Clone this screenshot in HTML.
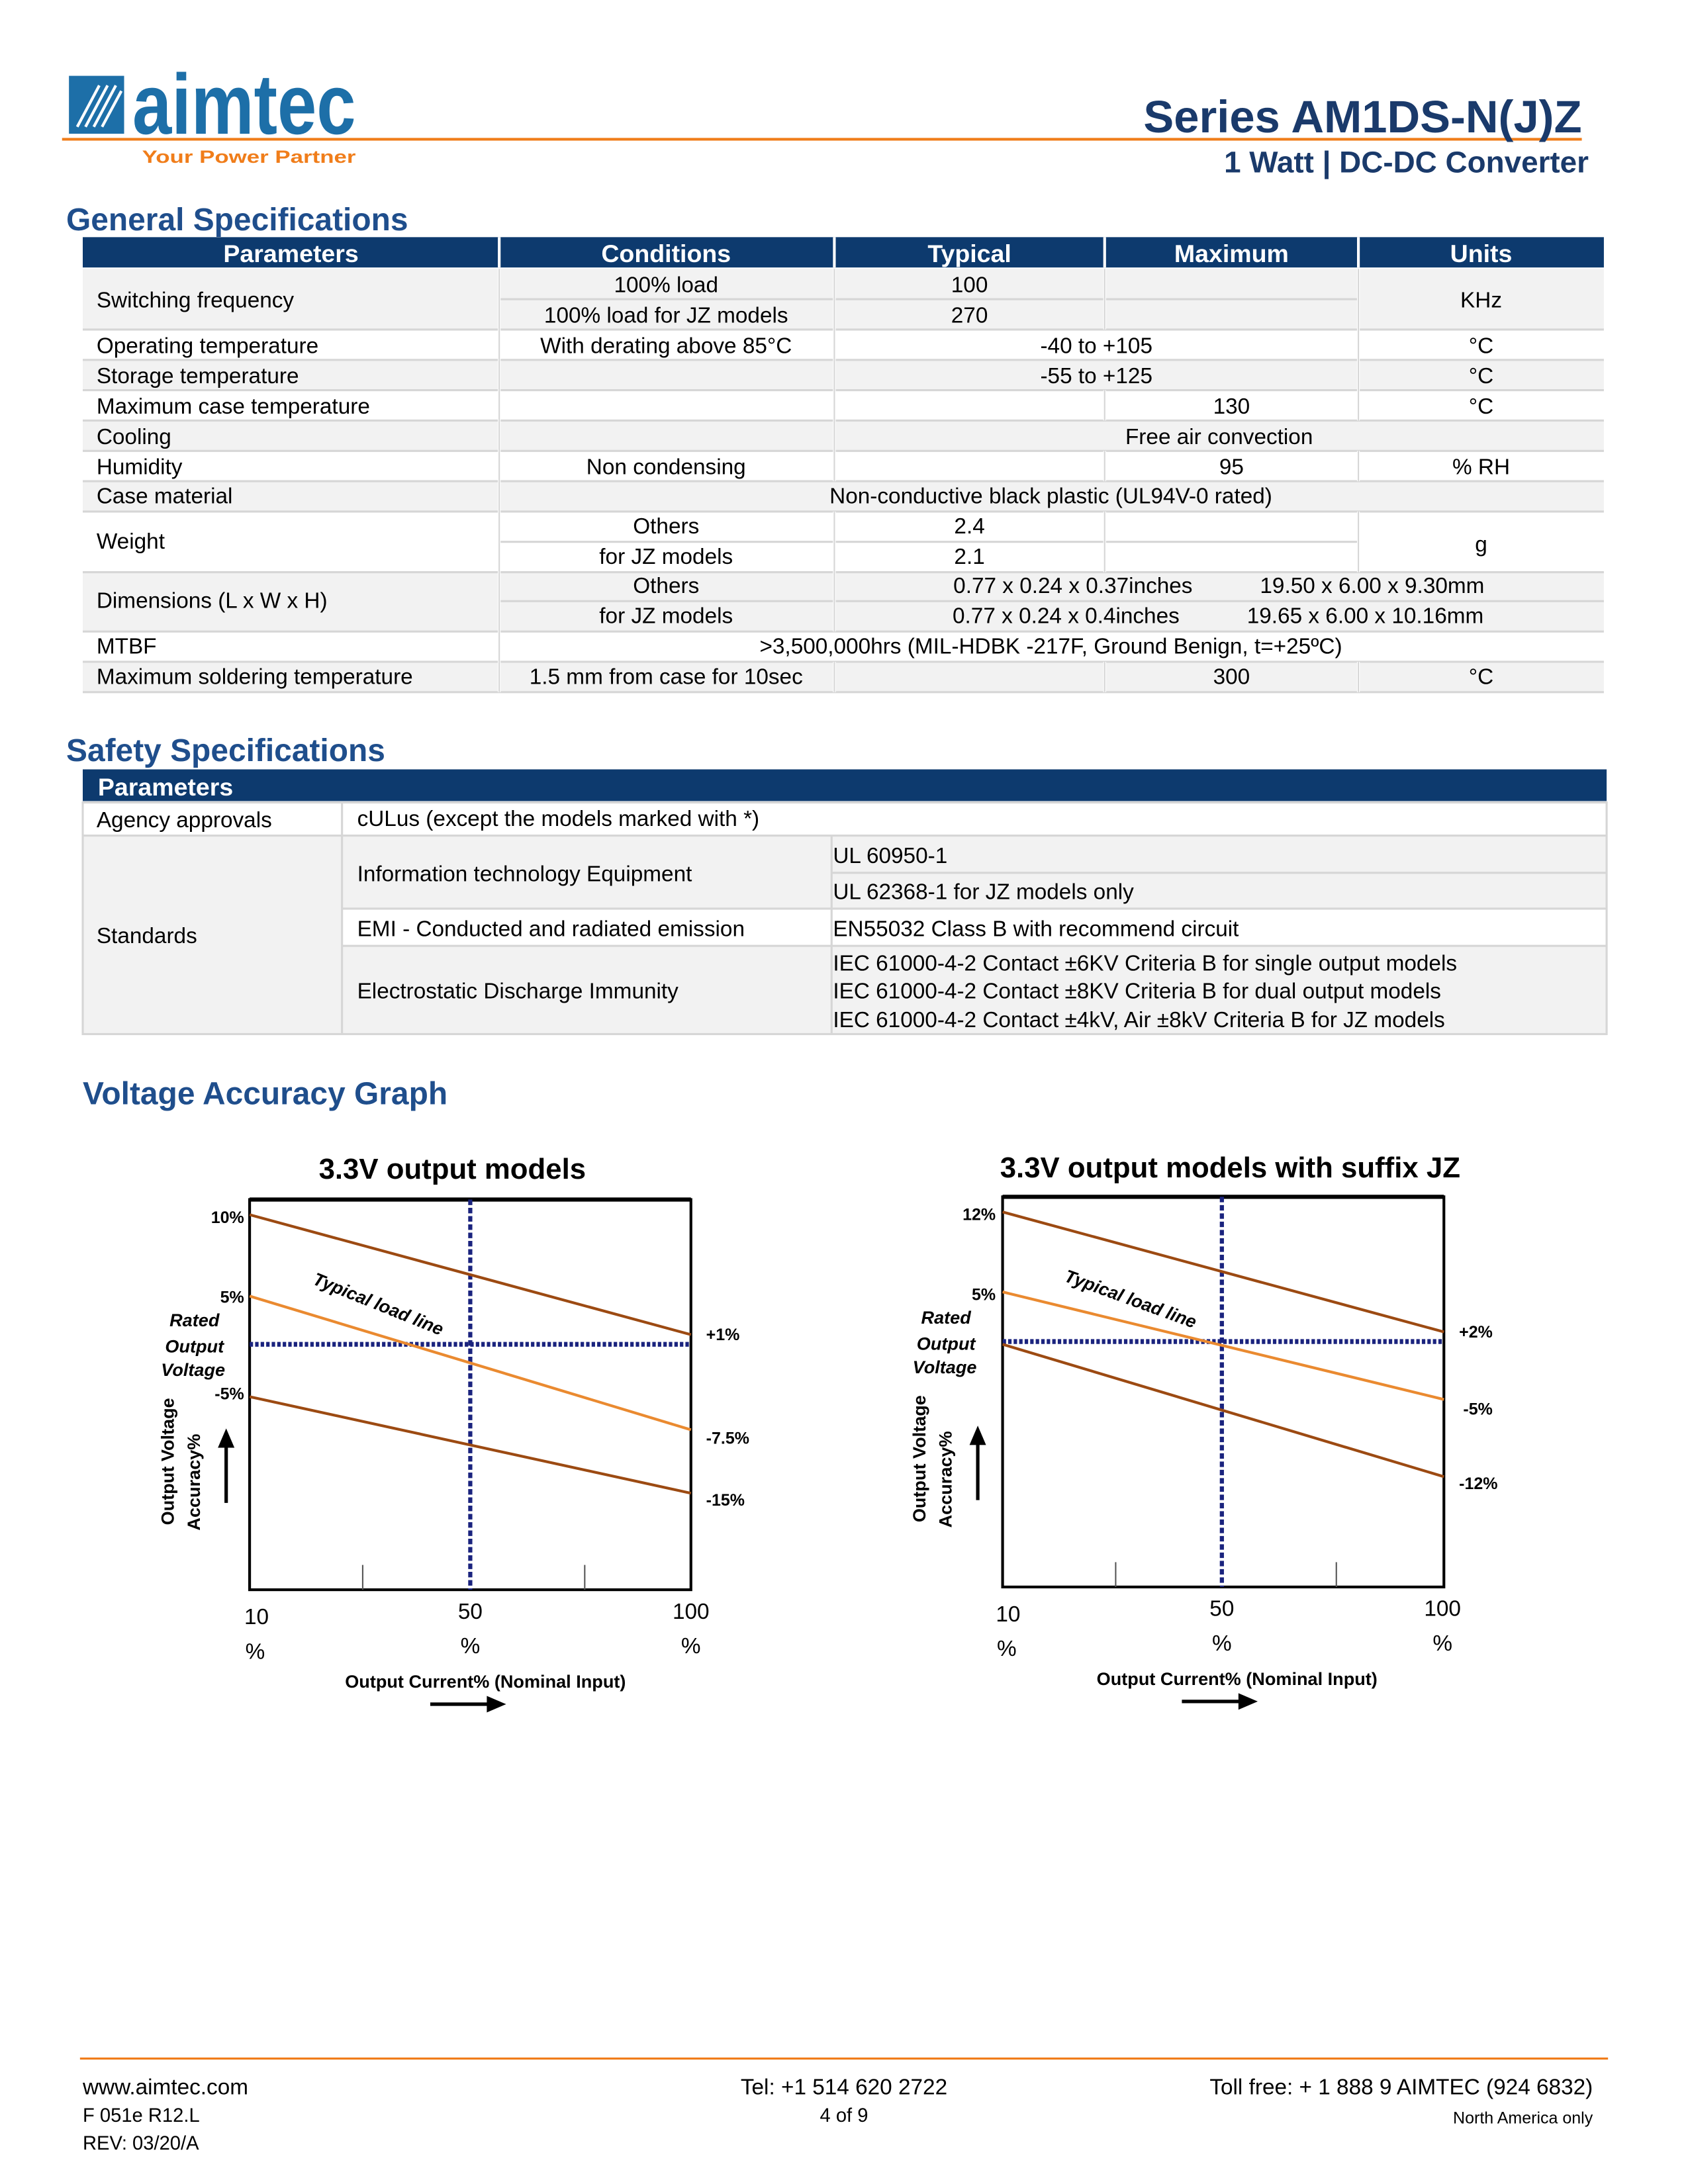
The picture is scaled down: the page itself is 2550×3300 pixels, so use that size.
<!DOCTYPE html>
<html><head><meta charset="utf-8"><style>
html,body{margin:0;padding:0;background:#fff}
svg{display:block}
text{font-family:"Liberation Sans",sans-serif}
</style></head><body>
<svg width="2550" height="3300" viewBox="0 0 1224 1584" xmlns="http://www.w3.org/2000/svg">
<!-- header -->
<rect x="50" y="55" width="40" height="42" fill="#1d6fa8"/>
<g stroke="#fff" stroke-width="2"><line x1="56" y1="92" x2="72" y2="62"/><line x1="62" y1="92" x2="78" y2="62"/><line x1="68" y1="92" x2="84" y2="62"/><line x1="74" y1="92" x2="88" y2="66"/></g>
<text x="96" y="97" font-size="62" font-weight="bold" fill="#1d6fa8" textLength="162" lengthAdjust="spacingAndGlyphs">aimtec</text>
<line x1="45" y1="101" x2="1147" y2="101" stroke="#f07d1a" stroke-width="2"/>
<text x="103" y="118" font-size="13" font-weight="bold" fill="#f07d1a" textLength="155" lengthAdjust="spacingAndGlyphs">Your Power Partner</text>
<text x="1147" y="96" font-size="33" font-weight="bold" fill="#1a3a6b" text-anchor="end">Series AM1DS-N(J)Z</text>
<text x="1152" y="125" font-size="22" font-weight="bold" fill="#1a3a6b" text-anchor="end">1 Watt | DC-DC Converter</text>
<text x="48" y="167" font-size="23" font-weight="bold" fill="#1f4e8c">General Specifications</text>
<!-- general table -->
<rect x="60" y="172" width="1103" height="22" fill="#0d3a6e"/>
<g stroke="#fff" stroke-width="2"><line x1="362" y1="172" x2="362" y2="194"/><line x1="605" y1="172" x2="605" y2="194"/><line x1="801" y1="172" x2="801" y2="194"/><line x1="985" y1="172" x2="985" y2="194"/></g>
<g font-size="18" font-weight="bold" fill="#fff" text-anchor="middle"><text x="211" y="190">Parameters</text><text x="483" y="190">Conditions</text><text x="703" y="190">Typical</text><text x="893" y="190">Maximum</text><text x="1074" y="190">Units</text></g>
<g fill="#f2f2f2"><rect x="60" y="195" width="1103" height="44"/><rect x="60" y="261" width="1103" height="22"/><rect x="60" y="305" width="1103" height="22"/><rect x="60" y="349" width="1103" height="22"/><rect x="60" y="415" width="1103" height="43"/><rect x="60" y="480" width="1103" height="22"/></g>
<g stroke="#d6d6d6" stroke-width="1.5" fill="none">
<line x1="60" y1="239" x2="1163" y2="239"/><line x1="60" y1="261" x2="1163" y2="261"/><line x1="60" y1="283" x2="1163" y2="283"/><line x1="60" y1="305" x2="1163" y2="305"/><line x1="60" y1="327" x2="1163" y2="327"/><line x1="60" y1="349" x2="1163" y2="349"/><line x1="60" y1="371" x2="1163" y2="371"/><line x1="60" y1="415" x2="1163" y2="415"/><line x1="60" y1="458" x2="1163" y2="458"/><line x1="60" y1="480" x2="1163" y2="480"/><line x1="60" y1="502" x2="1163" y2="502"/>
<line x1="362" y1="217" x2="985" y2="217"/><line x1="362" y1="393" x2="985" y2="393"/><line x1="362" y1="436" x2="1163" y2="436"/>
</g>
<g stroke="#fff" stroke-width="2">
<line x1="362" y1="195" x2="362" y2="502"/>
<line x1="605" y1="195" x2="605" y2="349"/><line x1="801" y1="195" x2="801" y2="239"/><line x1="985" y1="195" x2="985" y2="305"/>
<line x1="801" y1="283" x2="801" y2="305"/><line x1="801" y1="327" x2="801" y2="349"/><line x1="985" y1="327" x2="985" y2="349"/>
<line x1="605" y1="371" x2="605" y2="458"/><line x1="801" y1="371" x2="801" y2="415"/><line x1="985" y1="371" x2="985" y2="415"/>
<line x1="605" y1="480" x2="605" y2="502"/><line x1="801" y1="480" x2="801" y2="502"/><line x1="985" y1="480" x2="985" y2="502"/>
</g>
<g stroke="#d6d6d6" stroke-width="1"><line x1="362" y1="195" x2="362" y2="502"/><line x1="605" y1="195" x2="605" y2="349"/><line x1="605" y1="371" x2="605" y2="458"/><line x1="605" y1="480" x2="605" y2="502"/><line x1="801" y1="195" x2="801" y2="239"/><line x1="801" y1="283" x2="801" y2="305"/><line x1="801" y1="327" x2="801" y2="349"/><line x1="801" y1="371" x2="801" y2="415"/><line x1="801" y1="480" x2="801" y2="502"/><line x1="985" y1="195" x2="985" y2="305"/><line x1="985" y1="327" x2="985" y2="349"/><line x1="985" y1="371" x2="985" y2="415"/><line x1="985" y1="480" x2="985" y2="502"/></g>
<g font-size="16" fill="#000">
<text x="70" y="223">Switching frequency</text><text x="70" y="256">Operating temperature</text><text x="70" y="278">Storage temperature</text><text x="70" y="300">Maximum case temperature</text><text x="70" y="322">Cooling</text><text x="70" y="344">Humidity</text><text x="70" y="365">Case material</text><text x="70" y="398">Weight</text><text x="70" y="441">Dimensions (L x W x H)</text><text x="70" y="474">MTBF</text><text x="70" y="496">Maximum soldering temperature</text>
</g>
<g font-size="16" fill="#000" text-anchor="middle">
<text x="483" y="212">100% load</text><text x="703" y="212">100</text><text x="483" y="234">100% load for JZ models</text><text x="703" y="234">270</text><text x="1074" y="223">KHz</text>
<text x="483" y="256">With derating above 85°C</text><text x="795" y="256">-40 to +105</text><text x="1074" y="256">°C</text>
<text x="795" y="278">-55 to +125</text><text x="1074" y="278">°C</text>
<text x="893" y="300">130</text><text x="1074" y="300">°C</text>
<text x="884" y="322">Free air convection</text>
<text x="483" y="344">Non condensing</text><text x="893" y="344">95</text><text x="1074" y="344">% RH</text>
<text x="762" y="365">Non-conductive black plastic   (UL94V-0 rated)</text>
<text x="483" y="387">Others</text><text x="703" y="387">2.4</text><text x="483" y="409">for JZ models</text><text x="703" y="409">2.1</text><text x="1074" y="400">g</text>
<text x="483" y="430">Others</text><text x="778" y="430">0.77 x 0.24 x 0.37inches</text><text x="995" y="430">19.50 x 6.00 x 9.30mm</text>
<text x="483" y="452">for JZ models</text><text x="773" y="452">0.77 x 0.24 x 0.4inches</text><text x="990" y="452">19.65 x 6.00 x 10.16mm</text>
<text x="762" y="474">&gt;3,500,000hrs (MIL-HDBK -217F, Ground Benign, t=+25ºC)</text>
<text x="483" y="496">1.5 mm from case for 10sec</text><text x="893" y="496">300</text><text x="1074" y="496">°C</text>
</g>
<!-- safety -->
<text x="48" y="552" font-size="23" font-weight="bold" fill="#1f4e8c">Safety Specifications</text>
<rect x="60" y="558" width="1105" height="23" fill="#0d3a6e"/>
<text x="71" y="577" font-size="18" font-weight="bold" fill="#fff">Parameters</text>
<rect x="60" y="606" width="1105" height="144" fill="#f2f2f2"/>
<rect x="248" y="659" width="917" height="27" fill="#fff"/>
<g stroke="#d6d6d6" stroke-width="1.5" fill="none">
<rect x="60" y="582" width="1105" height="168"/>
<line x1="60" y1="606" x2="1165" y2="606"/><line x1="248" y1="659" x2="1165" y2="659"/><line x1="248" y1="686" x2="1165" y2="686"/><line x1="603" y1="633" x2="1165" y2="633"/>
<line x1="248" y1="582" x2="248" y2="750"/><line x1="603" y1="606" x2="603" y2="750"/>
</g>
<g font-size="16" fill="#000">
<text x="70" y="600">Agency approvals</text><text x="259" y="599">cULus (except the models marked with *)</text>
<text x="70" y="684">Standards</text>
<text x="259" y="639">Information technology Equipment</text><text x="604" y="626">UL 60950-1</text><text x="604" y="652">UL 62368-1 for JZ models only</text>
<text x="259" y="679">EMI - Conducted and radiated emission</text><text x="604" y="679">EN55032 Class B with recommend circuit</text>
<text x="259" y="724">Electrostatic Discharge Immunity</text>
<text x="604" y="704">IEC 61000-4-2 Contact ±6KV Criteria B for single output models</text>
<text x="604" y="724">IEC 61000-4-2 Contact ±8KV Criteria B for dual output models</text>
<text x="604" y="745">IEC 61000-4-2 Contact ±4kV, Air ±8kV Criteria B for JZ models</text>
</g>
<text x="60" y="801" font-size="23" font-weight="bold" fill="#1f4e8c">Voltage Accuracy Graph</text>
<!-- graph 1 -->
<g>
<text x="328" y="855" font-size="21" font-weight="bold" text-anchor="middle">3.3V output models</text>
<rect x="181" y="870" width="320" height="283" fill="none" stroke="#000" stroke-width="2"/>
<line x1="181" y1="870" x2="501" y2="870" stroke="#000" stroke-width="3"/>
<line x1="263" y1="1153" x2="263" y2="1135" stroke="#555"/><line x1="424" y1="1153" x2="424" y2="1135" stroke="#555"/>
<line x1="341" y1="870" x2="341" y2="1153" stroke="#1a237e" stroke-width="3" stroke-dasharray="4,2"/>
<line x1="181" y1="975" x2="501" y2="975" stroke="#1a237e" stroke-width="3.5" stroke-dasharray="2.5,1.5"/>
<line x1="181" y1="881" x2="501" y2="968" stroke="#9c4a12" stroke-width="2"/>
<line x1="181" y1="940" x2="501" y2="1037" stroke="#ea8a30" stroke-width="2"/>
<line x1="181" y1="1013" x2="501" y2="1083" stroke="#9c4a12" stroke-width="2"/>
<text x="0" y="0" font-size="13" font-weight="bold" font-style="italic" transform="translate(226,931) rotate(22)">Typical load line</text>
<g font-size="12" font-weight="bold" text-anchor="end"><text x="177" y="887">10%</text><text x="177" y="945">5%</text><text x="177" y="1015">-5%</text></g>
<g font-size="13" font-weight="bold" font-style="italic" text-anchor="middle"><text x="141" y="962">Rated</text><text x="141" y="981">Output</text><text x="140" y="998">Voltage</text></g>
<g font-size="12" font-weight="bold"><text x="512" y="972">+1%</text><text x="512" y="1047">-7.5%</text><text x="512" y="1092">-15%</text></g>
<g font-size="13" font-weight="bold" text-anchor="middle"><text transform="translate(126,1060) rotate(-90)">Output Voltage</text><text transform="translate(145,1075) rotate(-90)">Accuracy%</text></g>
<line x1="164" y1="1090" x2="164" y2="1046" stroke="#000" stroke-width="2.5"/><polygon points="164,1036 158,1050 170,1050" fill="#000"/>
<g font-size="16" text-anchor="middle"><text x="186" y="1178">10</text><text x="185" y="1203">%</text><text x="341" y="1174">50</text><text x="341" y="1199">%</text><text x="501" y="1174">100</text><text x="501" y="1199">%</text></g>
<text x="352" y="1224" font-size="13" font-weight="bold" text-anchor="middle">Output Current% (Nominal Input)</text>
<line x1="312" y1="1236" x2="356" y2="1236" stroke="#000" stroke-width="2.5"/><polygon points="367,1236 353,1230 353,1242" fill="#000"/>
</g>
<!-- graph 2 -->
<g>
<text x="892" y="854" font-size="21" font-weight="bold" text-anchor="middle">3.3V output models with suffix JZ</text>
<rect x="727" y="868" width="320" height="283" fill="none" stroke="#000" stroke-width="2"/>
<line x1="727" y1="868" x2="1047" y2="868" stroke="#000" stroke-width="3"/>
<line x1="809" y1="1151" x2="809" y2="1133" stroke="#555"/><line x1="969" y1="1151" x2="969" y2="1133" stroke="#555"/>
<line x1="886" y1="868" x2="886" y2="1151" stroke="#1a237e" stroke-width="3" stroke-dasharray="4,2"/>
<line x1="727" y1="973" x2="1047" y2="973" stroke="#1a237e" stroke-width="3.5" stroke-dasharray="2.5,1.5"/>
<line x1="727" y1="879" x2="1047" y2="966" stroke="#9c4a12" stroke-width="2"/>
<line x1="727" y1="937" x2="1047" y2="1015" stroke="#ea8a30" stroke-width="2"/>
<line x1="727" y1="975" x2="1047" y2="1071" stroke="#9c4a12" stroke-width="2"/>
<text x="0" y="0" font-size="13" font-weight="bold" font-style="italic" transform="translate(771,929) rotate(20)">Typical load line</text>
<g font-size="12" font-weight="bold" text-anchor="end"><text x="722" y="885">12%</text><text x="722" y="943">5%</text></g>
<g font-size="13" font-weight="bold" font-style="italic" text-anchor="middle"><text x="686" y="960">Rated</text><text x="686" y="979">Output</text><text x="685" y="996">Voltage</text></g>
<g font-size="12" font-weight="bold"><text x="1058" y="970">+2%</text><text x="1061" y="1026">-5%</text><text x="1058" y="1080">-12%</text></g>
<g font-size="13" font-weight="bold" text-anchor="middle"><text transform="translate(671,1058) rotate(-90)">Output Voltage</text><text transform="translate(690,1073) rotate(-90)">Accuracy%</text></g>
<line x1="709" y1="1088" x2="709" y2="1044" stroke="#000" stroke-width="2.5"/><polygon points="709,1034 703,1048 715,1048" fill="#000"/>
<g font-size="16" text-anchor="middle"><text x="731" y="1176">10</text><text x="730" y="1201">%</text><text x="886" y="1172">50</text><text x="886" y="1197">%</text><text x="1046" y="1172">100</text><text x="1046" y="1197">%</text></g>
<text x="897" y="1222" font-size="13" font-weight="bold" text-anchor="middle">Output Current% (Nominal Input)</text>
<line x1="857" y1="1234" x2="901" y2="1234" stroke="#000" stroke-width="2.5"/><polygon points="912,1234 898,1228 898,1240" fill="#000"/>
</g>
<!-- footer -->
<line x1="58" y1="1493" x2="1166" y2="1493" stroke="#f07d1a" stroke-width="1.5"/>
<g font-size="16"><text x="60" y="1519">www.aimtec.com</text><text x="612" y="1519" text-anchor="middle">Tel: +1 514 620 2722</text><text x="1155" y="1519" text-anchor="end">Toll free: + 1 888 9 AIMTEC (924 6832)</text></g>
<g font-size="14"><text x="60" y="1539">F 051e R12.L</text><text x="60" y="1559">REV: 03/20/A</text><text x="612" y="1539" text-anchor="middle">4 of 9</text></g>
<text x="1155" y="1540" font-size="12" text-anchor="end">North America only</text>
</svg>
</body></html>
